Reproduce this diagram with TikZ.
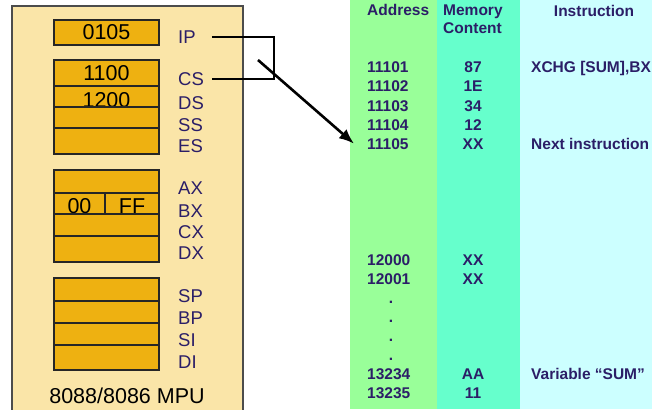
\documentclass[tikz,border=0pt]{standalone}
\usepackage{fontspec}
\setmainfont{Liberation Sans}
\usetikzlibrary{arrows.meta}

\definecolor{mpufill}{HTML}{FAE5A8}
\definecolor{regfill}{HTML}{EEB111}
\definecolor{labnavy}{HTML}{2B1E67}
\definecolor{addrgreen}{HTML}{99FF99}
\definecolor{memteal}{HTML}{66FFCC}
\definecolor{instcyan}{HTML}{CCFFFF}

\begin{document}
\begin{tikzpicture}[
    x=1pt,
    y=-1pt,
    reg/.style={draw=black!85, fill=regfill, line width=1.1pt, inner sep=0pt,
        minimum width=105pt, font=\fontsize{21.5}{24}\selectfont},
    rname/.style={anchor=west, inner sep=0pt, text=labnavy,
        font=\fontsize{18.5}{20}\selectfont},
    cell/.style={inner sep=0pt, text=labnavy,
        font=\bfseries\fontsize{15.5}{18}\selectfont},
    link/.style={line width=2.6pt, black}
]
\useasboundingbox (0,0) rectangle (652,409);

\draw[draw=black!70, line width=1.4pt, fill=mpufill] (12,6) rectangle (243,420);

\fill[addrgreen] (350,0) rectangle (437,409);
\fill[memteal] (437,0) rectangle (520,409);
\fill[instcyan] (520,0) rectangle (652,409);

\foreach \nm/\val/\yc/\h in {ip/0105/32.5/25, cs/1100/73/26,
    ds/{\raisebox{-10.5pt}[0pt][0pt]{1200}}/96.5/21, ss//117.5/21, es//141/26,
    ax//181.5/23}
    \node[reg, minimum height=\h pt] (r\nm) at (106.5,\yc) {\val};
\node[reg, minimum width=51pt, minimum height=21pt] (rbxh) at (79.5,203.5)
    {\raisebox{-9.5pt}[0pt][0pt]{00}};
\node[reg, minimum width=54pt, minimum height=21pt] (rbxl) at (132,203.5)
    {\raisebox{-9.5pt}[0pt][0pt]{FF}};
\foreach \nm/\yc/\h in {cx/225/22, dx/249/26, sp/289.5/23, bp/312/22,
    si/334/22, di/357.5/25}
    \node[reg, minimum height=\h pt] (r\nm) at (106.5,\yc) {};

\foreach \nm/\yc in {IP/37, CS/79, DS/103, SS/125, ES/146, AX/188, BX/211,
    CX/232, DX/253, SP/296, BP/318, SI/340, DI/362.5}
    \node[rname] (l\nm) at (178,\yc) {\nm};

\node[anchor=base, inner sep=0pt, font=\fontsize{21.5}{24}\selectfont] (mpu)
    at (127,403) {8088/8086 MPU};

\node[cell, anchor=base west] (haddr) at (367,16) {Address};
\node[cell, anchor=north west, align=left] (hmem) at (443,5) {Memory\\Content};
\node[cell, anchor=base] (hinst) at (594,17) {Instruction};

\foreach \ad/\mc/\yb in {11101/87/73, 11102/1E/92, 11103/34/111, 11104/12/130,
    11105/XX/149, 12000/XX/265, 12001/XX/284, 13234/AA/379, 13235/11/398} {
    \node[cell, anchor=base west] (a\ad) at (367,\yb) {\ad};
    \node[cell, anchor=base] (m\ad) at (473,\yb) {\mc};
}
\foreach \i/\yb in {1/303, 2/322, 3/341, 4/360}
    \node[cell, anchor=base] (dot\i) at (391,\yb) {.};

\node[cell, anchor=base west] (i11101) at (531,73) {XCHG [SUM],BX};
\node[cell, anchor=base west] (i11105) at (531,149) {Next instruction};
\node[cell, anchor=base west] (i13234) at (531,379) {Variable “SUM”};

\coordinate (jbar) at (258,60);
\draw[link] ([xshift=16pt]lIP.east) -- ([xshift=16pt]lIP.east -| jbar)
    |- ([xshift=8pt]lCS.east);
\draw[link, -{Latex[length=15pt, width=12pt]}] (jbar) -- ([xshift=-13pt]a11105.west);

\end{tikzpicture}
\end{document}
